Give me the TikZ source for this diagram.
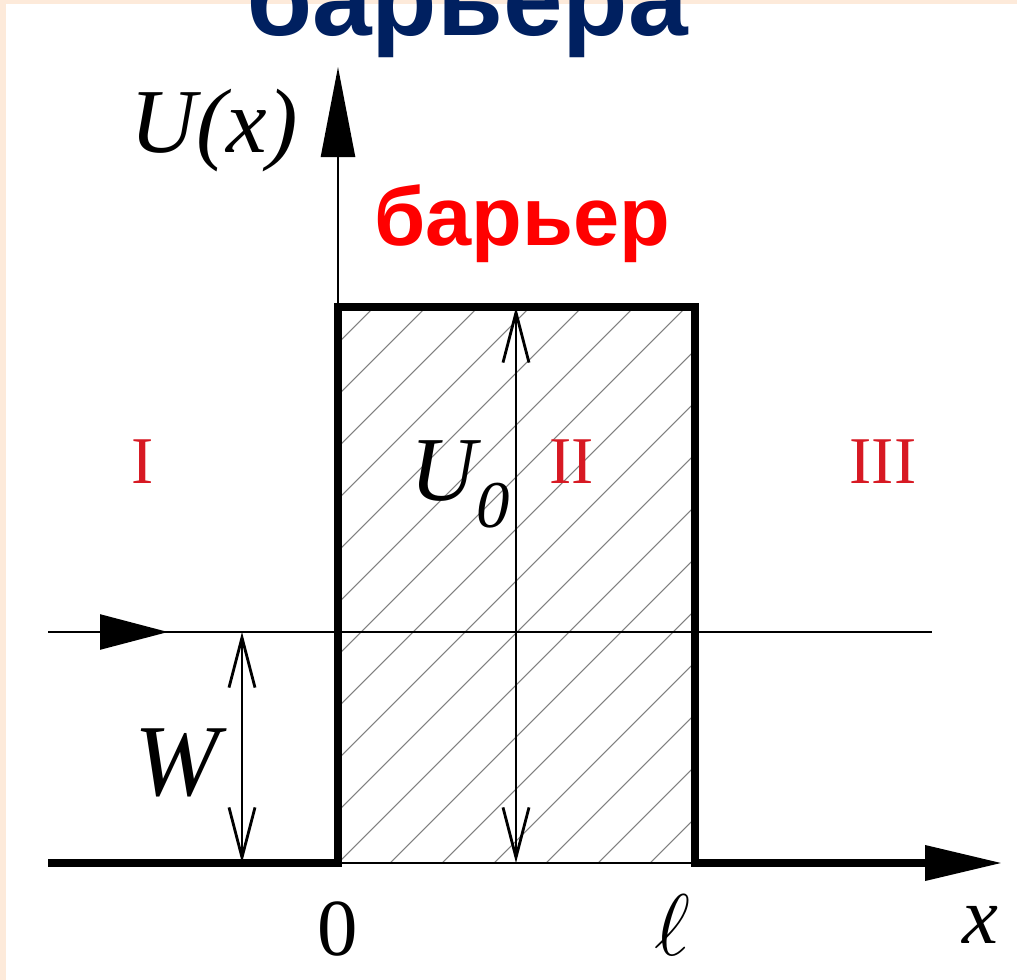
\documentclass[tikz,border=0pt]{standalone}
\usepackage{fontspec}
\setmainfont{Liberation Serif}
\newfontfamily\headfont{Liberation Sans}
\usetikzlibrary{arrows.meta}
\definecolor{framebg}{RGB}{253,234,218}
\definecolor{titleblue}{RGB}{0,32,96}
\definecolor{romanred}{RGB}{215,25,35}

\begin{document}
\begin{tikzpicture}[x=0.1mm,y=-0.1mm,
  thinax/.style={line width=0.7pt},
  wall/.style={line width=2pt},
  hatch/.style={line width=0.3pt,black!50},
  dimline/.style={line width=0.8pt,{Straight Barb[length=5mm,width=2.6mm]}-{Straight Barb[length=5mm,width=2.6mm]}},
  mathlbl/.style={font=\fontsize{26}{28}\selectfont\itshape,anchor=base},
  zone/.style={text=romanred,font=\fontsize{19}{21}\selectfont,anchor=base}]
\useasboundingbox (0,0) rectangle (1017,980);
\fill[white] (0,0) rectangle (1017,980);
\fill[framebg] (0,0) rectangle (1017,4);\fill[framebg] (0,0) rectangle (6,980);
% points of the potential
\coordinate(O) at(338,863);\coordinate(L) at(695,863);\coordinate(Otop) at(338,307);\coordinate(Ltop) at(695,307);
\coordinate(xs) at(48,863);\coordinate(xe) at(1002,863);\coordinate(ye) at(338,67);
\coordinate(ws) at(48,632);\coordinate(we) at(932,632);\coordinate(wa) at(100,632);\coordinate(wb) at(168,632);
\coordinate(Wt) at(242,632);\coordinate(Wb) at(242,863);\coordinate(Ut) at(516,307);\coordinate(Ub) at(516,863);
% hatching of the barrier
\begin{scope}
\clip(Otop) rectangle (L);
\foreach \s in {-11,...,7} \draw[hatch]({338+52*\s},863)--++(600,-600);
\end{scope}
\draw[thinax,-{Triangle[length=9mm,width=3.4mm]}](O)--(ye);
\draw[thinax](O)--(L);
\draw[thinax](ws)--(we);
\draw[thinax,-{Triangle[length=6.8mm,width=3.5mm]}](wa)--(wb);
\draw[wall,-{Triangle[length=7.7mm,width=3.4mm]}](xs)--(O)--(Otop)--(Ltop)--(L)--(xe);
\draw[dimline](Wt)--(Wb);\draw[dimline](Ut)--(Ub);
% labels
\node[mathlbl](Ulbl) at(214,152){U(x)};
\node[mathlbl,font=\fontsize{29}{31}\selectfont\itshape](Wlbl) at(177,795){W};
\node[mathlbl,anchor=base west](U0lbl) at(398,500){U\raisebox{-0.3em}{\fontsize{19}{20}\selectfont 0}};
\node[mathlbl,font=\fontsize{23}{25}\selectfont](zero) at(338,955){0};
\node[mathlbl](ell) at(672,955){$\ell$};
\node[mathlbl,font=\fontsize{23}{25}\selectfont\itshape](xlbl) at(980,943){x};
\node[zone](z1) at(143,483){I};\node[zone](z2) at(572,483){II};\node[zone](z3) at(883,483){III};
\node[font=\fontsize{23.6}{26}\selectfont\headfont\bfseries,text=red,anchor=base](barrier) at(522,245){барьер};
\node[font=\fontsize{30.5}{33}\selectfont\headfont\bfseries,text=titleblue,anchor=base](title) at(467,35){барьера};
\end{tikzpicture}
\end{document}
